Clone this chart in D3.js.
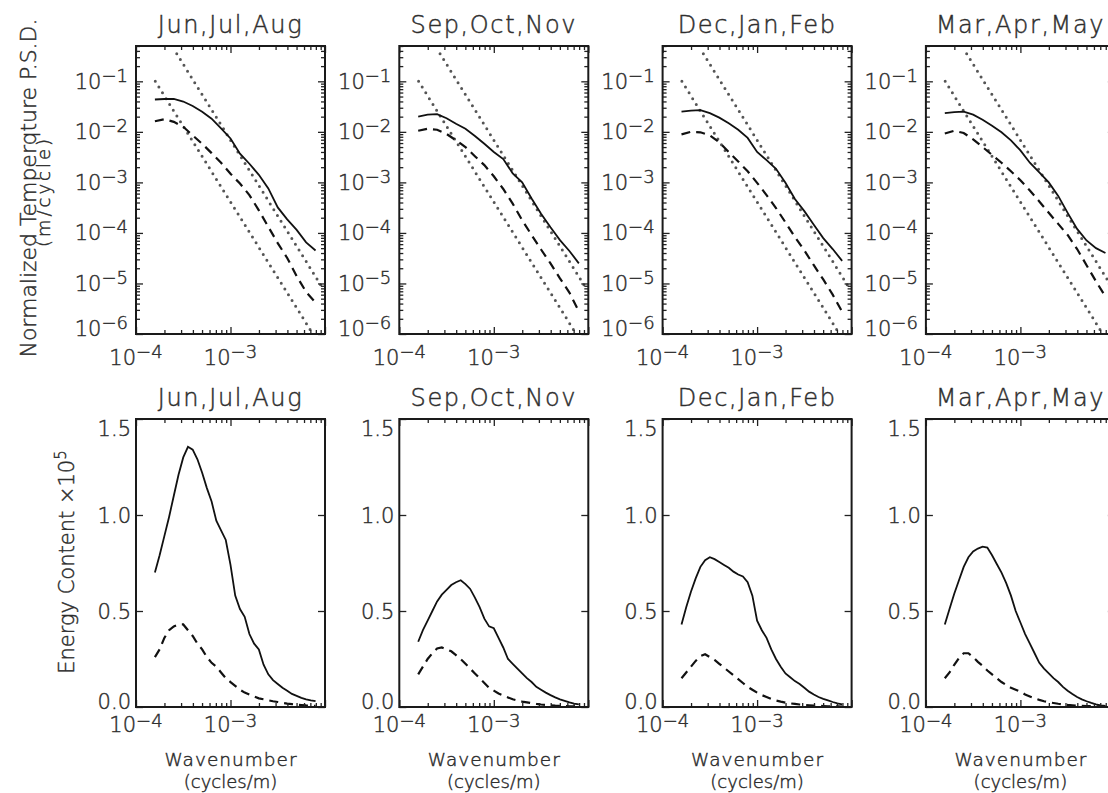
<!DOCTYPE html>
<html>
<head>
<meta charset="utf-8">
<script src="https://cdn.jsdelivr.net/npm/d3@7"></script>
<style>
  body { margin: 0; background: #fff; }
  svg { display: block; }
  text { font-family: "DejaVu Sans", sans-serif; font-weight: 300; fill: #2e2e2e; stroke: #2e2e2e; stroke-width: 0.45px; }
</style>
</head>
<body>
<svg width="1108" height="793"></svg>
<script>
const seasons = ['Jun,Jul,Aug', 'Sep,Oct,Nov', 'Dec,Jan,Feb', 'Mar,Apr,May'];

// wavenumbers (cycles/m) for the spectra, 0.1 decade apart
const psdK = [1.585e-4, 1.995e-4, 2.512e-4, 3.162e-4, 3.981e-4, 5.012e-4, 6.310e-4, 7.943e-4, 1.0e-3,
              1.259e-3, 1.585e-3, 1.995e-3, 2.512e-3, 3.162e-3, 3.981e-3, 5.012e-3, 6.310e-3, 7.943e-3];

// normalized temperature PSD (m/cycle), solid and dashed curves
const jjaPsd = [0.0437, 0.0447, 0.0447, 0.0398, 0.0324, 0.0251, 0.0182, 0.0117, 0.0074, 0.0037, 0.00234, 0.00141, 7.6e-4, 3.2e-4, 1.86e-4, 1.15e-4, 6.5e-5, 4.5e-5];
const jjaPsdDash = [0.0162, 0.0178, 0.0158, 0.0126, 0.0085, 0.0058, 0.0038, 0.00245, 0.00148, 9.5e-4, 5.6e-4, 2.8e-4, 1.32e-4, 6.3e-5, 3.2e-5, 1.4e-5, 6.8e-6, 4.2e-6];
const sonPsd = [0.0200, 0.0219, 0.0224, 0.0186, 0.0145, 0.0115, 0.0083, 0.0058, 0.0040, 0.0029, 0.00151, 0.0010, 4.8e-4, 2.4e-4, 1.29e-4, 7.2e-5, 4.4e-5, 2.5e-5];
const sonPsdDash = [0.0105, 0.0115, 0.0110, 0.0091, 0.0068, 0.0050, 0.0033, 0.0022, 0.00132, 7.4e-4, 3.8e-4, 1.78e-4, 9.1e-5, 4.7e-5, 2.5e-5, 1.26e-5, 6.6e-6, 2.8e-6];
const djfPsd = [0.0251, 0.0263, 0.0269, 0.0234, 0.0191, 0.0148, 0.0110, 0.0076, 0.0040, 0.00275, 0.00186, 9.8e-4, 4.7e-4, 2.7e-4, 1.45e-4, 7.9e-5, 4.8e-5, 2.8e-5];
const djfPsdDash = [0.0089, 0.0100, 0.0098, 0.0085, 0.0062, 0.0040, 0.0026, 0.00166, 9.8e-4, 5.6e-4, 3.1e-4, 1.62e-4, 8.3e-5, 4.5e-5, 2.3e-5, 1.2e-5, 6.0e-6, 2.75e-6];
const mamPsd = [0.0234, 0.0245, 0.0251, 0.0219, 0.0174, 0.0132, 0.0098, 0.0068, 0.0043, 0.00245, 0.00158, 0.0010, 5.4e-4, 2.5e-4, 1.2e-4, 7.1e-5, 5.0e-5, 4.0e-5];
const mamPsdDash = [0.0093, 0.0105, 0.0095, 0.0071, 0.0050, 0.0035, 0.00245, 0.00166, 0.0011, 6.9e-4, 4.2e-4, 2.5e-4, 1.51e-4, 9.1e-5, 4.8e-5, 2.3e-5, 1.1e-5, 5.5e-6];

// k^-3 reference lines (end points)
const refUpper = [[2.7e-4, 0.35], [9.0e-3, 9.4e-6]];
const refLower = [[1.6e-4, 0.1], [7.5e-3, 9.8e-7]];

// wavenumbers for the energy content curves, 0.05 decade apart
const energyK = [1.585e-4, 1.778e-4, 1.995e-4, 2.239e-4, 2.512e-4, 2.818e-4, 3.162e-4, 3.548e-4, 3.981e-4,
                 4.467e-4, 5.012e-4, 5.623e-4, 6.310e-4, 7.079e-4, 7.943e-4, 8.913e-4, 1.0e-3, 1.122e-3,
                 1.259e-3, 1.413e-3, 1.585e-3, 1.778e-3, 1.995e-3, 2.239e-3, 2.512e-3, 2.818e-3, 3.162e-3,
                 3.548e-3, 3.981e-3, 4.467e-3, 5.012e-3, 5.623e-3, 6.310e-3, 7.079e-3, 7.943e-3];

// energy content x 10^5
const jjaEnergy = [0.70, 0.79, 0.89, 0.99, 1.10, 1.21, 1.30, 1.355, 1.34, 1.29, 1.22, 1.14, 1.07, 0.97, 0.92, 0.87, 0.74, 0.58,
                   0.51, 0.47, 0.38, 0.33, 0.30, 0.22, 0.17, 0.14, 0.12, 0.10, 0.085, 0.068, 0.058, 0.048, 0.040, 0.035, 0.031];
const jjaEnergyDash = [0.26, 0.30, 0.36, 0.40, 0.42, 0.43, 0.43, 0.40, 0.37, 0.33, 0.30, 0.26, 0.23, 0.21, 0.18, 0.15, 0.13, 0.11,
                       0.09, 0.075, 0.065, 0.055, 0.045, 0.040, 0.035, 0.030, 0.026, 0.022, 0.018, 0.015, 0.012, 0.010, 0.008, 0.007, 0.006];
const sonEnergy = [0.34, 0.40, 0.45, 0.50, 0.55, 0.585, 0.61, 0.635, 0.65, 0.66, 0.64, 0.615, 0.57, 0.52, 0.46, 0.42, 0.41, 0.36,
                   0.31, 0.25, 0.225, 0.20, 0.175, 0.15, 0.13, 0.105, 0.09, 0.075, 0.062, 0.05, 0.040, 0.032, 0.024, 0.018, 0.014];
const sonEnergyDash = [0.17, 0.21, 0.25, 0.28, 0.305, 0.31, 0.30, 0.29, 0.27, 0.25, 0.225, 0.20, 0.175, 0.15, 0.125, 0.10, 0.085, 0.07,
                       0.06, 0.05, 0.04, 0.034, 0.028, 0.024, 0.020, 0.016, 0.013, 0.011, 0.009, 0.007, 0.006, 0.005, 0.004, 0.003, 0.003];
const djfEnergy = [0.43, 0.52, 0.60, 0.67, 0.73, 0.765, 0.78, 0.77, 0.755, 0.74, 0.725, 0.705, 0.69, 0.68, 0.65, 0.58, 0.45, 0.40,
                   0.36, 0.30, 0.25, 0.21, 0.175, 0.155, 0.135, 0.12, 0.10, 0.08, 0.065, 0.052, 0.042, 0.034, 0.026, 0.019, 0.014];
const djfEnergyDash = [0.15, 0.18, 0.21, 0.24, 0.265, 0.275, 0.26, 0.245, 0.225, 0.205, 0.185, 0.165, 0.145, 0.125, 0.105, 0.09, 0.075, 0.062,
                       0.052, 0.042, 0.034, 0.028, 0.023, 0.019, 0.016, 0.013, 0.011, 0.009, 0.007, 0.006, 0.005, 0.004, 0.003, 0.003, 0.002];
const mamEnergy = [0.43, 0.51, 0.59, 0.66, 0.73, 0.78, 0.81, 0.825, 0.835, 0.83, 0.79, 0.745, 0.70, 0.645, 0.58, 0.50, 0.44, 0.38,
                   0.33, 0.28, 0.23, 0.20, 0.175, 0.15, 0.13, 0.105, 0.085, 0.068, 0.052, 0.040, 0.030, 0.021, 0.014, 0.009, 0.006];
const mamEnergyDash = [0.15, 0.18, 0.22, 0.255, 0.28, 0.28, 0.26, 0.235, 0.215, 0.19, 0.17, 0.15, 0.13, 0.115, 0.10, 0.09, 0.08, 0.065,
                       0.055, 0.045, 0.037, 0.030, 0.025, 0.021, 0.017, 0.014, 0.011, 0.009, 0.007, 0.006, 0.005, 0.004, 0.003, 0.003, 0.002];

const psdSolid = [jjaPsd, sonPsd, djfPsd, mamPsd];
const psdDashed = [jjaPsdDash, sonPsdDash, djfPsdDash, mamPsdDash];
const energySolid = [jjaEnergy, sonEnergy, djfEnergy, mamEnergy];
const energyDashed = [jjaEnergyDash, sonEnergyDash, djfEnergyDash, mamEnergyDash];

const psdTicks = [1e-6, 1e-5, 1e-4, 1e-3, 1e-2, 1e-1];
const energyTicks = [0, 0.5, 1.0, 1.5];
const kLabels = [1e-4, 1e-3];

// layout
const svg = d3.select('svg');
const W = 189, H = 288;
const colLeft = [136, 399.3, 662.6, 925.9];
const rowTop = [46, 419];

const x = d3.scaleLog().domain([1e-4, 1e-2]).range([0, W]);
const yPsd = d3.scaleLog().domain([1e-6, 0.5]).range([H, 0]);
const yEnergy = d3.scaleLinear().domain([0, 1.5]).range([H, 0]);

function isDecade(v) {
    const e = Math.log10(v);
    return Math.abs(e - Math.round(e)) < 1e-9;
}

function powText(sel, v, supDy) {
    sel.append('tspan').text('10');
    sel.append('tspan').attr('dy', supDy).attr('font-size', 18)
        .text('\u2212' + Math.abs(Math.round(Math.log10(v))));
}

function drawTicks(g, y, yMajor, yMinor) {
    const xMajor = x.ticks().filter(isDecade);
    const xMinor = x.ticks().filter(t => !isDecade(t));
    const sides = [
        [d3.axisBottom, `translate(0,${H})`, x, xMajor, xMinor],
        [d3.axisTop, 'translate(0,0)', x, xMajor, xMinor],
        [d3.axisLeft, 'translate(0,0)', y, yMajor, yMinor],
        [d3.axisRight, `translate(${W},0)`, y, yMajor, yMinor]
    ];
    sides.forEach(([axisFn, tr, scale, major, minor]) => {
        [[major, 7], [minor, 4]].forEach(([vals, len]) => {
            const ax = g.append('g').attr('transform', tr)
                .call(axisFn(scale).tickValues(vals).tickSize(-len).tickFormat(''));
            ax.select('.domain').remove();
            ax.selectAll('line').attr('stroke', '#222').attr('stroke-width', 1.3);
        });
    });
}

function drawPanel(row, col) {
    const g = svg.append('g').attr('transform', `translate(${colLeft[col]},${rowTop[row]})`);
    const y = row === 0 ? yPsd : yEnergy;
    const clipId = `clip-${row}-${col}`;
    g.append('clipPath').attr('id', clipId)
        .append('rect').attr('width', W).attr('height', H);

    // title
    g.append('text')
        .attr('x', W / 2).attr('y', -13)
        .attr('text-anchor', 'middle')
        .attr('font-size', 24)
        .attr('letter-spacing', 1.6)
        .text(seasons[col]);

    const plot = g.append('g').attr('clip-path', `url(#${clipId})`);

    if (row === 0) {
        const line = d3.line().x(d => x(d[0])).y(d => yPsd(d[1]));
        [refUpper, refLower].forEach(ref => {
            plot.append('path')
                .attr('d', line(ref))
                .attr('fill', 'none')
                .attr('stroke', '#555')
                .attr('stroke-width', 3)
                .attr('stroke-linecap', 'round')
                .attr('stroke-dasharray', '0,6.8');
        });
        plot.append('path')
            .attr('d', line(d3.zip(psdK, psdDashed[col])))
            .attr('fill', 'none').attr('stroke', '#111')
            .attr('stroke-width', 2.2).attr('stroke-dasharray', '9,6');
        plot.append('path')
            .attr('d', line(d3.zip(psdK, psdSolid[col])))
            .attr('fill', 'none').attr('stroke', '#111')
            .attr('stroke-width', 1.8);
    } else {
        const line = d3.line().x(d => x(d[0])).y(d => yEnergy(d[1]));
        plot.append('path')
            .attr('d', line(d3.zip(energyK, energyDashed[col])))
            .attr('fill', 'none').attr('stroke', '#111')
            .attr('stroke-width', 2.2).attr('stroke-dasharray', '9,6');
        plot.append('path')
            .attr('d', line(d3.zip(energyK, energySolid[col])))
            .attr('fill', 'none').attr('stroke', '#111')
            .attr('stroke-width', 1.8);
    }

    // ticks on all four sides, pointing in
    if (row === 0) {
        drawTicks(g, yPsd, psdTicks, yPsd.ticks().filter(t => !isDecade(t)));
    } else {
        drawTicks(g, yEnergy, energyTicks, []);
    }

    g.append('rect')
        .attr('width', W).attr('height', H)
        .attr('fill', 'none').attr('stroke', '#1a1a1a').attr('stroke-width', 2);

    // y tick labels
    const yLabels = row === 0 ? psdTicks : energyTicks;
    yLabels.forEach(v => {
        const yy = Math.min(Math.max(y(v), 9), H - 6);
        const t = g.append('text')
            .attr('x', row === 0 ? -8 : -5)
            .attr('y', yy + 7.5)
            .attr('text-anchor', 'end')
            .attr('font-size', 21);
        if (row === 0) powText(t, v, -7);
        else t.text(d3.format('.1f')(v));
    });

    // x tick labels
    kLabels.forEach(v => {
        const t = g.append('text')
            .attr('x', x(v))
            .attr('y', H + (row === 0 ? 31 : 25))
            .attr('text-anchor', 'middle')
            .attr('font-size', 21);
        powText(t, v, row === 0 ? -7 : -5);
    });

    if (row === 1) {
        g.append('text')
            .attr('x', W / 2).attr('y', H + 59)
            .attr('text-anchor', 'middle').attr('font-size', 18.5)
            .attr('textLength', 132).attr('lengthAdjust', 'spacing')
            .text('Wavenumber');
        g.append('text')
            .attr('x', W / 2).attr('y', H + 81)
            .attr('text-anchor', 'middle').attr('font-size', 18)
            .text('(cycles/m)');
    }
}

[0, 1].forEach(row => seasons.forEach((s, col) => drawPanel(row, col)));

// y axis titles
const pTitle = svg.append('text')
    .attr('transform', 'translate(0,190) rotate(-90)')
    .attr('text-anchor', 'middle');
pTitle.append('tspan').attr('x', 2).attr('y', 36)
    .attr('font-size', 22)
    .attr('textLength', 339).attr('lengthAdjust', 'spacing')
    .text('Normalized Temperqture P.S.D.');
pTitle.append('tspan').attr('x', -3).attr('y', 50)
    .attr('font-size', 18)
    .attr('textLength', 108).attr('lengthAdjust', 'spacing')
    .text('(m/cycle)');

const eTitle = svg.append('text')
    .attr('transform', 'translate(74,562) rotate(-90)')
    .attr('text-anchor', 'middle')
    .attr('font-size', 21);
eTitle.append('tspan').text('Energy Content \u00d710');
eTitle.append('tspan').attr('dy', -8).attr('font-size', 15).text('5');
</script>
</body>
</html>
